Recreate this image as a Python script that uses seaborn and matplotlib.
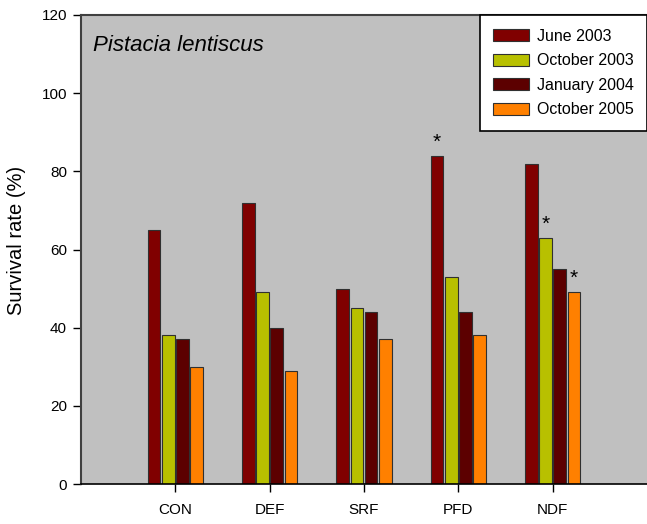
import matplotlib
matplotlib.use("Agg")
import matplotlib.pyplot as plt
import seaborn as sns
import pandas as pd

# Survival of Pistacia lentiscus seedlings per treatment and census date
treatments = ["CON", "DEF", "SRF", "PFD", "NDF"]
dates = ["June 2003", "October 2003", "January 2004", "October 2005"]
june_2003 = [65, 72, 50, 84, 82]
october_2003 = [38, 49, 45, 53, 63]
january_2004 = [37, 40, 44, 44, 55]
october_2005 = [30, 29, 37, 38, 49]
# significant differences marked with an asterisk
sig_treatments = ["PFD", "NDF", "NDF"]
sig_dates = ["June 2003", "October 2003", "October 2005"]

colors = ["#800000", "#B8C000", "#5C0000", "#FF8000"]

series = [june_2003, october_2003, january_2004, october_2005]
df = pd.DataFrame(
    [(t, d, v) for d, vals in zip(dates, series) for t, v in zip(treatments, vals)],
    columns=["treatment", "date", "survival"],
)

sns.set_theme(style="white")
plt.rcParams["font.family"] = ["Liberation Sans", "DejaVu Sans"]
plt.rcParams.update({
    "text.color": "black",
    "axes.labelcolor": "black",
    "xtick.color": "black",
    "ytick.color": "black",
})

fig = plt.figure(figsize=(6.47, 5.24), dpi=100)
ax = fig.add_axes([81 / 647, 40 / 524, 566 / 647, 469 / 524])
ax.set_facecolor("#C0C0C0")

sns.barplot(
    data=df, x="treatment", y="survival", hue="date",
    order=treatments, hue_order=dates, palette=colors,
    width=0.6, gap=0.1, edgecolor="#303030", linewidth=0.8,
    saturation=1, ax=ax,
)

ax.set_xlim(-1, 5)
ax.set_ylim(0, 120)
ax.set_yticks(range(0, 121, 20))
ax.set_xlabel("")
ax.set_ylabel("Survival rate (%)", fontsize=14.5)
ax.yaxis.set_label_coords(-0.097, 0.52)
ax.tick_params(axis="both", which="major", direction="out", length=6,
               width=1, color="black", labelsize=11, pad=4,
               left=True, bottom=True)
ax.tick_params(axis="x", pad=8)

for side in ["left", "top"]:
    ax.spines[side].set_color("#404040")
    ax.spines[side].set_linewidth(1.5)
ax.spines["bottom"].set_color("black")
ax.spines["bottom"].set_linewidth(1.2)
ax.spines["right"].set_visible(False)

# asterisks above the significant bars
for t, d in zip(sig_treatments, sig_dates):
    bar = ax.containers[dates.index(d)][treatments.index(t)]
    ax.annotate("*", (bar.get_x() + bar.get_width() / 2, bar.get_height()),
                xytext=(0, 3), textcoords="offset points",
                ha="center", va="bottom", fontsize=15)

ax.text(0.022, 0.923, "Pistacia lentiscus", transform=ax.transAxes,
        fontsize=16, style="italic", ha="left", va="baseline")

leg = ax.legend(loc="upper right", borderaxespad=0, fontsize=11.5,
                frameon=True, fancybox=False, edgecolor="black",
                facecolor="white", framealpha=1, handlelength=2.2,
                handleheight=0.8, labelspacing=0.6, borderpad=0.85,
                handletextpad=0.5)
leg.get_frame().set_linewidth(1.2)

fig.savefig("out.png", dpi=100)
